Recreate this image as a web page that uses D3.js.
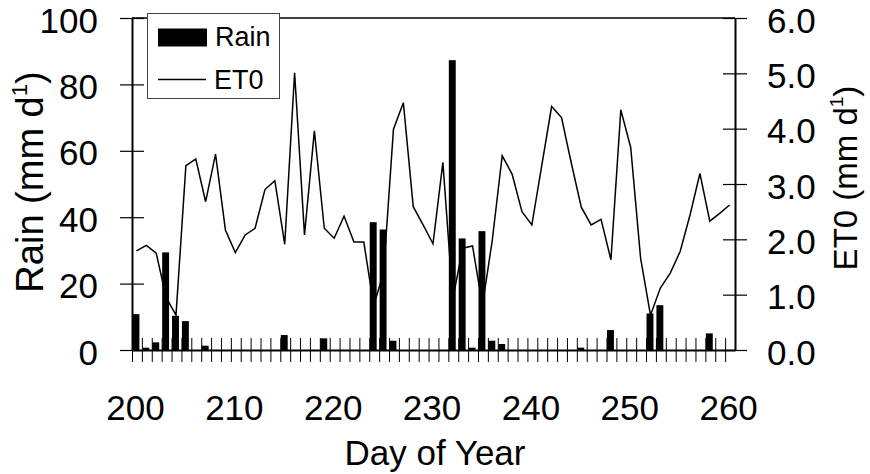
<!DOCTYPE html>
<html>
<head>
<meta charset="utf-8">
<script src="https://cdn.jsdelivr.net/npm/d3@7"></script>
<style>
  body { margin: 0; background: #fff; }
  svg { font-family: "Liberation Sans", Arial, sans-serif; }
</style>
</head>
<body>
<svg id="chart" width="870" height="474"></svg>
<script>
// daily rain (only the days with rain), mm/d
var rainDays = [200, 201, 202, 203, 204, 205, 207, 215, 219, 224, 225, 226,
                232, 233, 234, 235, 236, 237, 245, 248, 252, 253, 258];
var rainMm   = [10.8, 0.7, 2.3, 29.4, 10.3, 8.7, 1.3, 4.5, 3.5, 38.5, 36.3, 2.8,
                87.3, 33.6, 0.7, 35.8, 2.8, 1.8, 0.7, 6.0, 11.0, 13.5, 5.0];

// reference ET, one value per day starting at day 200
var etStartDay = 200;
var et0 = [1.79, 1.89, 1.75, 0.95, 0.63, 3.33, 3.45, 2.68, 3.54, 2.17,
           1.76, 2.08, 2.20, 2.90, 3.06, 1.91, 5.01, 2.08, 3.96, 2.20,
           2.02, 2.42, 1.95, 1.95, 0.80, 1.40, 3.99, 4.47, 2.59, 2.26,
           1.92, 3.39, 0.92, 1.84, 1.88, 0.80, 1.99, 3.51, 3.18, 2.50,
           2.26, 3.33, 4.40, 4.20, 3.37, 2.58, 2.26, 2.36, 1.63, 4.34,
           3.66, 1.66, 0.63, 1.12, 1.39, 1.78, 2.44, 3.19, 2.33, 2.47,
           2.62];

var xTicks = [200, 210, 220, 230, 240, 250, 260];
var rainTicks = [0, 20, 40, 60, 80, 100];
var etTicks = [0, 1, 2, 3, 4, 5, 6];

var svg = d3.select("#chart");
var plotL = 132, plotR = 735, plotT = 18, plotB = 350;

var x = d3.scaleLinear().domain([200, 261]).range([plotL, plotR]);
var yRain = d3.scaleLinear().domain([0, 100]).range([plotB, plotT]);
var yEt = d3.scaleLinear().domain([0, 6]).range([plotB, plotT]);

// rain bars
svg.append("g")
  .selectAll("rect")
  .data(rainDays)
  .enter()
  .append("rect")
    .attr("x", function(d) { return x(d) + 0.5; })
    .attr("width", function(d) { return x(d + 0.7) - x(d); })
    .attr("y", function(d, i) { return yRain(rainMm[i]); })
    .attr("height", function(d, i) { return yRain(0) - yRain(rainMm[i]); })
    .attr("fill", "#000");

// ET0 line
var line = d3.line()
  .x(function(d, i) { return x(etStartDay + i + 0.45); })
  .y(function(d) { return yEt(d); });

svg.append("path")
  .datum(et0)
  .attr("d", line)
  .attr("fill", "none")
  .attr("stroke", "#000")
  .attr("stroke-width", 1.5)
  .attr("stroke-linejoin", "miter");

// frame top
svg.append("line")
  .attr("x1", plotL).attr("x2", plotR)
  .attr("y1", plotT).attr("y2", plotT)
  .attr("stroke", "#000").attr("stroke-width", 1.5);

// axes
function styleAxis(g) {
  g.select(".domain").attr("stroke", "#000").attr("stroke-width", 2);
  g.selectAll(".tick line").attr("stroke", "#000").attr("stroke-width", 1.2);
  g.selectAll(".tick text").attr("fill", "#000").attr("font-size", 35)
    .attr("font-family", "'Liberation Sans', Arial, sans-serif");
}

var gLeft = svg.append("g")
  .attr("transform", "translate(" + plotL + ",0)")
  .call(d3.axisLeft(yRain).tickValues(rainTicks).tickSizeInner(12).tickSizeOuter(0).tickPadding(22));
styleAxis(gLeft);
gLeft.selectAll(".tick line").attr("x1", 12).attr("x2", -12);
gLeft.selectAll(".tick text").attr("dy", "0.4em");

var gRight = svg.append("g")
  .attr("transform", "translate(" + plotR + ",0)")
  .call(d3.axisRight(yEt).tickValues(etTicks).tickFormat(d3.format(".1f"))
    .tickSizeInner(12).tickSizeOuter(0).tickPadding(20));
styleAxis(gRight);
gRight.selectAll(".tick line").attr("x1", -12).attr("x2", 12);
gRight.selectAll(".tick text").attr("dy", "0.4em");

var gBottom = svg.append("g")
  .attr("transform", "translate(0," + plotB + ")")
  .call(d3.axisBottom(x).tickValues(d3.range(200, 261))
    .tickFormat(function(d) { return xTicks.indexOf(d) >= 0 ? d : ""; })
    .tickSizeInner(12).tickSizeOuter(0).tickPadding(33));
styleAxis(gBottom);
gBottom.selectAll(".tick line").attr("y1", -12).attr("y2", 12).attr("stroke-width", 1);
gBottom.selectAll(".tick text").attr("dx", 3);

// axis titles
svg.append("text")
  .attr("x", 435).attr("y", 465)
  .attr("text-anchor", "middle")
  .attr("font-size", 35)
  .text("Day of Year");

var yLab = svg.append("text")
  .attr("transform", "translate(43,182) rotate(-90)")
  .attr("text-anchor", "middle")
  .attr("font-size", 38);
yLab.append("tspan").text("Rain (mm d");
yLab.append("tspan").attr("font-size", 22).attr("dy", -16).text("1");
yLab.append("tspan").attr("dy", 16).text(")");

var y2Lab = svg.append("text")
  .attr("transform", "translate(857,178) rotate(-90)")
  .attr("text-anchor", "middle")
  .attr("font-size", 33);
y2Lab.append("tspan").text("ET0 (mm d");
y2Lab.append("tspan").attr("font-size", 19).attr("dy", -14).text("1");
y2Lab.append("tspan").attr("dy", 14).text(")");

// legend
var lg = svg.append("g");
lg.append("rect")
  .attr("x", 147.5).attr("y", 13.5)
  .attr("width", 132).attr("height", 85)
  .attr("fill", "#fff").attr("stroke", "#444").attr("stroke-width", 1);
lg.append("rect")
  .attr("x", 158).attr("y", 28.5)
  .attr("width", 49).attr("height", 18)
  .attr("fill", "#000");
lg.append("text")
  .attr("x", 215).attr("y", 45.5)
  .attr("font-size", 27)
  .text("Rain");
lg.append("line")
  .attr("x1", 158).attr("x2", 206)
  .attr("y1", 79.5).attr("y2", 79.5)
  .attr("stroke", "#000").attr("stroke-width", 1.5);
lg.append("text")
  .attr("x", 214).attr("y", 88.5)
  .attr("font-size", 27)
  .text("ET0");
</script>
</body>
</html>
